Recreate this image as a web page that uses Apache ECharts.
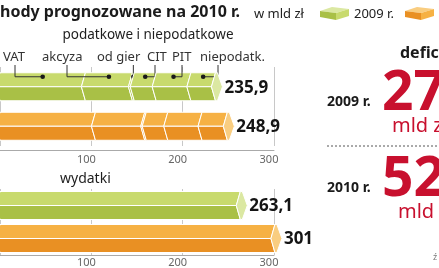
<!DOCTYPE html>
<html>
<head>
<meta charset="utf-8">
<script src="https://cdn.jsdelivr.net/npm/echarts@6/dist/echarts.min.js"></script>
<style>
  html, body { margin: 0; padding: 0; background: #fff; }
  #chart { width: 439px; height: 268px; }
</style>
</head>
<body>
<div id="chart"></div>
<script>
  // dane (mld zł)
  const segNames = ['VAT', 'akcyza', 'od gier', 'CIT', 'PIT', 'niepodatk.'];
  const income2009 = [93.5, 51.5, 2, 24, 38, 26.9];
  const income2010 = [104.5, 54, 1.6, 23.6, 37.5, 27.7];
  const spending = [263.1, 301];
  const years = ['2009 r.', '2010 r.'];
  const xTicks = [0, 100, 200, 300];

  const FONT = '"Noto Sans", sans-serif';
  const BAR_H = 28;
  const D = 4; // chevron depth
  const colors = [
    { top: '#c8da6d', bottom: '#a9c046', cap: '#dbe8a2' },
    { top: '#f6b144', bottom: '#e99023', cap: '#f9cd80' }
  ];
  // pozycje etykiet nad paskiem 2009
  const labelX = [3, 42, 97, 147, 172, 200];
  const leaderX = [15, 67, null, 155, 182, 218];
  const LABEL_Y = 57;
  const LEADER_TOP = 65;

  const fmt = v => (Math.round(v * 10) / 10).toString().replace('.', ',');
  const sum = a => a.reduce((s, v) => s + v, 0);
  const incomeTotal = [sum(income2009), sum(income2010)];
  const deficit = spending.map((v, i) => Math.round(v - incomeTotal[i]));

  function barRenderer(rowsSegs, withLeaders) {
    return function (params, api) {
      const row = api.value(0);
      const segs = rowsSegs[row];
      const c = colors[row];
      const mid = api.coord([0, row])[1];
      const top = mid - BAR_H / 2, bot = mid + BAR_H / 2;
      const children = [];
      let cum = 0;
      segs.forEach((v, i) => {
        const x0 = api.coord([cum, row])[0];
        const x1 = api.coord([cum + v, row])[0];
        children.push({
          type: 'polygon',
          shape: { points: [[x0, top], [x1, top], [x1 - D, mid], [x0 - D, mid]] },
          style: { fill: c.top, stroke: '#fff', lineWidth: 1 }
        });
        children.push({
          type: 'polygon',
          shape: { points: [[x0 - D, mid], [x1 - D, mid], [x1, bot], [x0, bot]] },
          style: { fill: c.bottom, stroke: '#fff', lineWidth: 1 }
        });
        if (withLeaders && row === 0) {
          const xm = api.coord([cum + v / 2, row])[0];
          const dy = top + 4;
          const ax = leaderX[i];
          const pts = ax === null ? [[xm, dy], [xm, LEADER_TOP]] : [[xm, dy], [ax, dy], [ax, LEADER_TOP]];
          children.push({ type: 'polyline', shape: { points: pts }, style: { stroke: '#333', lineWidth: 1, fill: null } });
          children.push({ type: 'circle', shape: { cx: xm, cy: dy, r: 2.3 }, style: { fill: '#1a1a1a' } });
        }
        cum += v;
      });
      const xe = api.coord([cum, row])[0];
      children.push({
        type: 'polygon',
        shape: { points: [[xe, top], [xe + 2, top], [xe + 7, mid], [xe + 2, bot], [xe, bot], [xe - D, mid]] },
        style: { fill: c.cap, stroke: '#fff', lineWidth: 1 }
      });
      children.push({
        type: 'text',
        style: { text: fmt(cum), x: xe + 9, y: mid + 1, verticalAlign: 'middle', font: 'bold 17px ' + FONT, fill: '#141414' }
      });
      return { type: 'group', children: children };
    };
  }

  function axisX(gridIndex, margin) {
    return {
      type: 'value', gridIndex: gridIndex, min: xTicks[0], max: xTicks[xTicks.length - 1], interval: 100,
      offset: gridIndex === 0 ? 4 : 0,
      axisLine: { show: true, lineStyle: { color: '#aaa', width: 1 } },
      axisTick: { show: false },
      axisLabel: { showMinLabel: false, color: '#666', fontSize: 11, fontFamily: FONT, margin: margin, padding: [0, 10, 0, 0] },
      splitLine: { show: true, lineStyle: { color: '#c8c8c8', width: 1 } }
    };
  }
  function axisY(gridIndex) {
    return { type: 'category', gridIndex: gridIndex, data: years, inverse: true, show: false };
  }

  function T(text, x, y, font, fill, align) {
    return { type: 'text', x: x, y: y, silent: true, style: { text: text, font: font, fill: fill || '#222', align: align || 'left', verticalAlign: 'middle' } };
  }
  function cube(x, y, c) {
    return {
      type: 'group', x: x, y: y, silent: true,
      children: [
        { type: 'polygon', shape: { points: [[0, 4], [12, 0], [29, 2], [16, 6]] }, style: { fill: c.cap } },
        { type: 'polygon', shape: { points: [[0, 4], [16, 6], [16, 13], [0, 10]] }, style: { fill: c.bottom } },
        { type: 'polygon', shape: { points: [[16, 6], [29, 2], [29, 9], [16, 13]] }, style: { fill: c.top } }
      ]
    };
  }

  const red = '#c8102e';
  const graphic = [
    T('hody prognozowane na 2010 r.', 0, 12, 'bold 16px ' + FONT, '#1b1b1b'),
    T('w mld zł', 254, 14, '13px ' + FONT, '#222'),
    cube(320, 7, colors[0]),
    T(years[0], 354, 14, '13px ' + FONT, '#222'),
    cube(405, 7, colors[1]),
    T('podatkowe i niepodatkowe', 148, 35, '13.5px ' + FONT, '#1e1e1e', 'center'),
    T('wydatki', 60, 179, '14px ' + FONT, '#1e1e1e'),
    T('defic', 400, 53, 'bold 16px ' + FONT, '#1a1a1a'),
    T(years[0], 327, 102, 'bold 14px ' + FONT, '#1a1a1a'),
    T(String(deficit[0]), 382, 94, 'bold 55px ' + FONT, red),
    T('mld zł', 392, 126, '20px ' + FONT, red),
    { type: 'line', silent: true, shape: { x1: 327, y1: 146, x2: 439, y2: 146 }, style: { stroke: '#555', lineWidth: 1, lineDash: [2, 2] } },
    T(years[1], 327, 188, 'bold 14px ' + FONT, '#1a1a1a'),
    T(String(deficit[1]), 382, 180, 'bold 55px ' + FONT, red),
    T('mld zł', 398, 212, '20px ' + FONT, red),
    T('ź', 433, 257, '9px ' + FONT, '#777')
  ];
  segNames.forEach((n, i) => graphic.push(T(n, labelX[i], LABEL_Y, '13px ' + FONT, '#333')));

  const chart = echarts.init(document.getElementById('chart'), null, { renderer: 'canvas' });
  chart.setOption({
    animation: false,
    textStyle: { fontFamily: FONT },
    grid: [
      { left: -5, width: 279, top: 67, height: 79 },
      { left: -5, width: 279, top: 189, height: 66 }
    ],
    xAxis: [axisX(0, 4), axisX(1, 2)],
    yAxis: [axisY(0), axisY(1)],
    graphic: graphic,
    series: [
      {
        type: 'custom', xAxisIndex: 0, yAxisIndex: 0,
        data: years.map((y, i) => [i]),
        renderItem: barRenderer([income2009, income2010], true)
      },
      {
        type: 'custom', xAxisIndex: 1, yAxisIndex: 1,
        data: years.map((y, i) => [i]),
        renderItem: barRenderer([[spending[0]], [spending[1]]], false)
      }
    ]
  });
</script>
</body>
</html>
